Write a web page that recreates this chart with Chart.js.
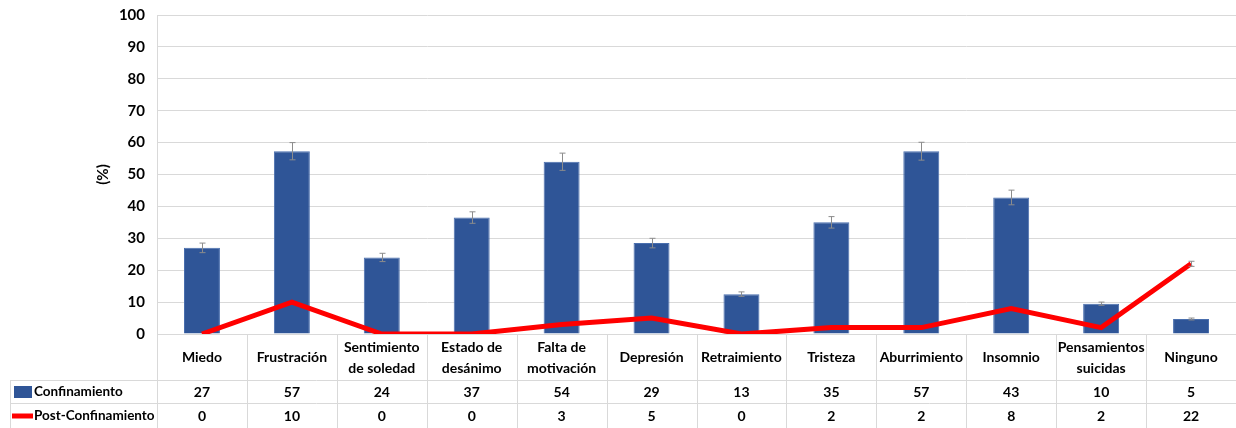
<!DOCTYPE html>
<html>
<head>
<meta charset="utf-8">
<script src="https://cdn.jsdelivr.net/npm/chart.js@4"></script>
<style>
  html, body { margin: 0; padding: 0; background: #fff; }
  #wrap { width: 1236px; height: 428px; }
</style>
</head>
<body>
<div id="wrap"><canvas id="emoChart"></canvas></div>
<script>
// Categories (multi-line labels as arrays)
const categories = [
    ['Miedo'], ['Frustración'], ['Sentimiento', 'de soledad'], ['Estado de', 'desánimo'],
    ['Falta de', 'motivación'], ['Depresión'], ['Retraimiento'], ['Tristeza'],
    ['Aburrimiento'], ['Insomnio'], ['Pensamientos', 'suicidas'], ['Ninguno']
];

// Series values (%)
const confinamiento = [27, 57.3, 24, 36.5, 54, 28.5, 12.5, 35, 57.3, 42.8, 9.5, 4.7];
const postConfinamiento = [0, 10, 0, 0, 3, 5, 0, 2, 2, 8, 2, 22];

// Error bars (±)
const confinamientoErr = [1.5, 2.7, 1.3, 1.8, 2.7, 1.5, 0.7, 1.8, 2.8, 2.3, 0.5, 0.3];
const postConfinamientoErr = [0, 0, 0, 0, 0, 0, 0, 0, 0, 0, 0, 0.8];

// Values printed in the data table
const confinamientoTable = [27, 57, 24, 37, 54, 29, 13, 35, 57, 43, 10, 5];
const postConfinamientoTable = [0, 10, 0, 0, 3, 5, 0, 2, 2, 8, 2, 22];

const FONT = 'Lato, "Noto Sans", sans-serif';
const BLUE = '#2F5597';
const RED = '#FF0000';
const GRID = '#d9d9d9';

// Error bars on top of marks
const errorBars = {
    id: 'errorBars',
    afterDatasetsDraw(chart) {
        const ctx = chart.ctx;
        const y = chart.scales.y;
        const lists = [[1, confinamiento, confinamientoErr], [0, postConfinamiento, postConfinamientoErr]];
        ctx.save();
        ctx.strokeStyle = '#8c8c8c';
        ctx.lineWidth = 1;
        lists.forEach(([dsIndex, vals, errs]) => {
            const meta = chart.getDatasetMeta(dsIndex);
            meta.data.forEach((el, i) => {
                if (!errs[i]) return;
                const x = Math.round(el.x) + 0.5;
                const top = y.getPixelForValue(vals[i] + errs[i]);
                const bot = y.getPixelForValue(vals[i] - errs[i]);
                ctx.beginPath();
                ctx.moveTo(x, top); ctx.lineTo(x, bot);
                ctx.moveTo(x - 3, top); ctx.lineTo(x + 3, top);
                ctx.moveTo(x - 3, bot); ctx.lineTo(x + 3, bot);
                ctx.stroke();
            });
        });
        ctx.restore();
    }
};

// Data table under the plot
const dataTable = {
    id: 'dataTable',
    afterDraw(chart) {
        const ctx = chart.ctx;
        const xs = chart.scales.x;
        const area = chart.chartArea;
        const right = chart.width;
        const catW = xs.width / categories.length;
        const top = area.bottom;
        const row1 = 380, row2 = 403, bottom = 428;

        ctx.save();
        ctx.strokeStyle = GRID;
        ctx.lineWidth = 1;
        ctx.beginPath();
        [row1, row2].forEach(yy => {
            ctx.moveTo(10, yy + 0.5); ctx.lineTo(right, yy + 0.5);
        });
        ctx.moveTo(10.5, row1); ctx.lineTo(10.5, bottom);
        for (let i = 0; i <= categories.length; i++) {
            const bx = Math.round(area.left + i * catW) + 0.5;
            ctx.moveTo(bx, top); ctx.lineTo(bx, bottom);
        }
        ctx.stroke();

        ctx.fillStyle = '#000';
        ctx.font = 'bold 14px ' + FONT;
        ctx.textAlign = 'center';
        ctx.textBaseline = 'middle';
        categories.forEach((lab, i) => {
            const cx = xs.getPixelForValue(i);
            if (lab.length === 1) {
                ctx.fillText(lab[0], cx, 357);
            } else {
                ctx.fillText(lab[0], cx, 347);
                ctx.fillText(lab[1], cx, 368);
            }
            ctx.fillText(String(confinamientoTable[i]), cx, 392);
            ctx.fillText(String(postConfinamientoTable[i]), cx, 416);
        });

        // legend keys
        ctx.fillStyle = BLUE;
        ctx.fillRect(14, 386, 18, 12);
        ctx.strokeStyle = RED;
        ctx.lineWidth = 5;
        ctx.beginPath();
        ctx.moveTo(12, 416); ctx.lineTo(33, 416);
        ctx.stroke();

        ctx.fillStyle = '#000';
        ctx.textAlign = 'left';
        ctx.font = 'bold 13.5px ' + FONT;
        ctx.fillText('Confinamiento', 34, 392);
        ctx.fillText('Post-Confinamiento', 34, 416);
        ctx.restore();
    }
};

const ctx = document.getElementById('emoChart').getContext('2d');
new Chart(ctx, {
    data: {
        labels: categories,
        datasets: [{
            type: 'line',
            label: 'Post-Confinamiento',
            data: postConfinamiento,
            borderColor: RED,
            borderWidth: 5,
            pointRadius: 0,
            tension: 0,
            order: 0
        }, {
            type: 'bar',
            label: 'Confinamiento',
            data: confinamiento,
            backgroundColor: BLUE,
            borderColor: '#4a6fae',
            borderWidth: 1,
            barPercentage: 0.4,
            categoryPercentage: 1,
            order: 1
        }]
    },
    options: {
        responsive: true,
        maintainAspectRatio: false,
        animation: false,
        layout: { padding: { left: 90, top: 15, right: 0, bottom: 94 } },
        plugins: {
            legend: { display: false },
            tooltip: { enabled: false }
        },
        scales: {
            x: {
                display: false,
                offset: true
            },
            y: {
                min: 0,
                max: 100,
                ticks: {
                    stepSize: 10,
                    color: '#000',
                    padding: 12,
                    font: { family: FONT, size: 15, weight: 'bold' }
                },
                grid: { color: GRID, drawTicks: false },
                border: { color: GRID },
                title: {
                    display: true,
                    text: '(%)',
                    color: '#000',
                    padding: 4,
                    font: { family: FONT, size: 15, weight: 'bold' }
                },
                afterFit(scale) {
                    scale.width = 67;
                    scale.paddingTop = 0;
                    scale.paddingBottom = 0;
                }
            }
        }
    },
    plugins: [errorBars, dataTable]
});
</script>
</body>
</html>
